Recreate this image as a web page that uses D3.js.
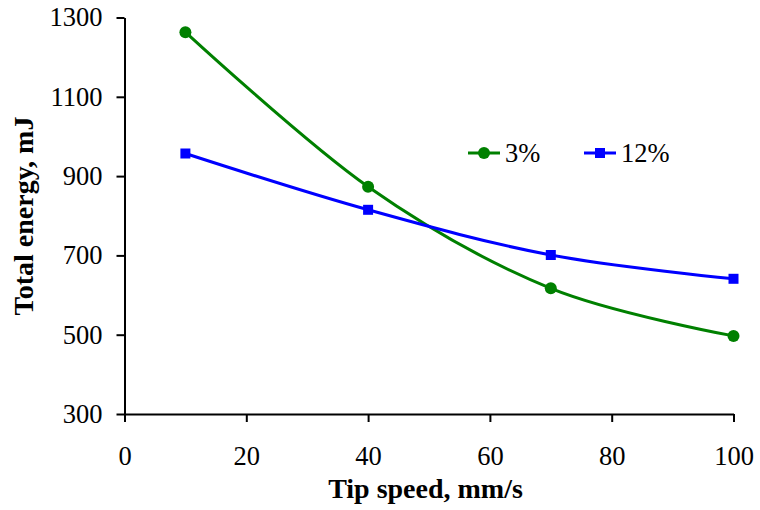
<!DOCTYPE html>
<html>
<head>
<meta charset="utf-8">
<script src="https://cdn.jsdelivr.net/npm/d3@7"></script>
<style>
  body { margin: 0; background: #fff; }
  svg text { font-family: "Liberation Serif", "Times New Roman", Times, serif; fill: #000; }
</style>
</head>
<body>
<div id="chart"></div>
<script>
// values
const speeds = [10, 40, 70, 100]
const energy3 = [1263, 873, 617, 497]
const energy12 = [957, 815, 701, 641]
const xTicks = [0, 20, 40, 60, 80, 100]
const yTicks = [300, 500, 700, 900, 1100, 1300]

const width = 760
const height = 510
const margin = { top: 17.5, left: 124.5, right: 26.5, bottom: 96 }
const serif = "'Liberation Serif', 'Times New Roman', Times, serif"

const svg = d3.select("#chart")
  .append("svg")
  .attr("width", width)
  .attr("height", height)
  .attr("font-family", serif)

const x = d3.scaleLinear().domain([0, 100]).range([margin.left, width - margin.right])
const y = d3.scaleLinear().domain([300, 1300]).range([height - margin.bottom, margin.top])

// axes
const xAxis = svg.append("g")
  .attr("transform", `translate(0, ${y(300)})`)
  .call(d3.axisBottom(x).tickValues(xTicks).tickFormat(d3.format("d"))
    .tickSize(8).tickPadding(24).tickSizeOuter(0))
const yAxis = svg.append("g")
  .attr("transform", `translate(${x(0)}, 0)`)
  .call(d3.axisLeft(y).tickValues(yTicks).tickFormat(d3.format("d"))
    .tickSize(8).tickPadding(14).tickSizeOuter(0))

for (const g of [xAxis, yAxis]) {
  g.attr("font-family", serif).attr("font-size", 26.5)
  g.selectAll("path, line").attr("stroke", "#000").attr("stroke-width", 2)
  g.selectAll("text").attr("fill", "#000")
}

// axis titles
svg.append("text")
  .attr("x", 425.5)
  .attr("y", 498)
  .attr("text-anchor", "middle")
  .attr("font-size", 28)
  .attr("font-weight", "bold")
  .text("Tip speed, mm/s")

svg.append("text")
  .attr("transform", `translate(33, 216) rotate(-90)`)
  .attr("text-anchor", "middle")
  .attr("font-size", 28)
  .attr("font-weight", "bold")
  .text("Total energy, mJ")

// series
const series = [
  { name: "3%", values: energy3, color: "#008000", shape: "circle" },
  { name: "12%", values: energy12, color: "#0000ff", shape: "square" }
]

const line = d3.line()
  .x(d => x(d[0]))
  .y(d => y(d[1]))
  .curve(d3.curveCardinal.tension(0))

function drawMarker(g, shape, cx, cy, color) {
  if (shape === "circle") {
    g.append("circle").attr("cx", cx).attr("cy", cy).attr("r", 6).attr("fill", color)
  } else {
    g.append("rect").attr("x", cx - 5).attr("y", cy - 5).attr("width", 10).attr("height", 10).attr("fill", color)
  }
}

series.forEach(s => {
  const pts = speeds.map((v, i) => [v, s.values[i]])
  svg.append("path")
    .datum(pts)
    .attr("d", line)
    .attr("fill", "none")
    .attr("stroke", s.color)
    .attr("stroke-width", 3)
  const g = svg.append("g")
  pts.forEach(p => drawMarker(g, s.shape, x(p[0]), y(p[1]), s.color))
})

// legend
const legendX = [468, 584]
series.forEach((s, i) => {
  const g = svg.append("g").attr("transform", `translate(${legendX[i]}, 153)`)
  g.append("line").attr("x1", 0).attr("x2", 32).attr("y1", 0).attr("y2", 0)
    .attr("stroke", s.color).attr("stroke-width", 3)
  drawMarker(g, s.shape, 16, 0, s.color)
  g.append("text")
    .attr("x", 37)
    .attr("y", 9)
    .attr("font-size", 26.5)
    .text(s.name)
})
</script>
</body>
</html>
